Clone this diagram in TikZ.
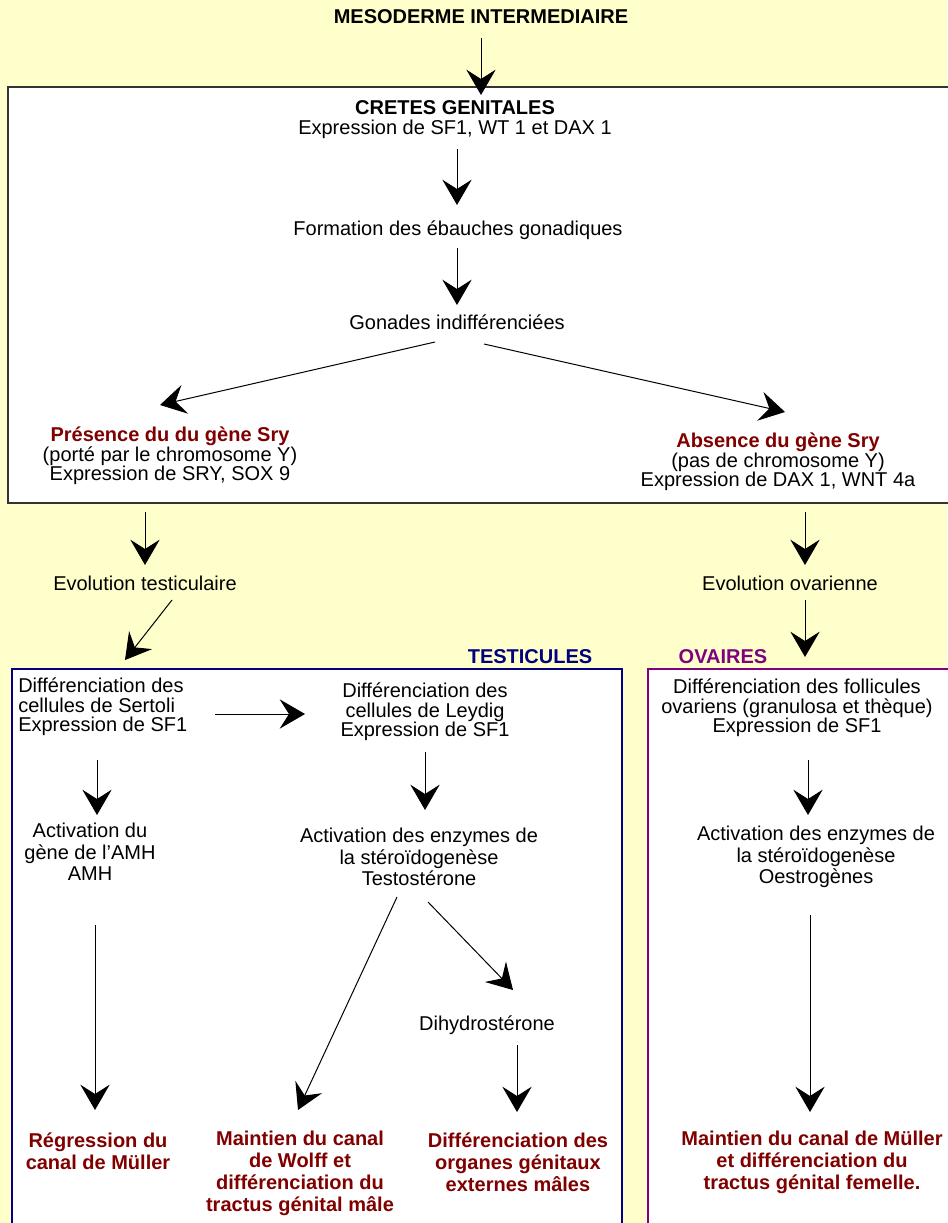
\documentclass[tikz,border=0pt]{standalone}
\usepackage{fontspec}
\setmainfont{Liberation Sans}
\usepackage{xcolor}
\usepackage{tikz}
\usetikzlibrary{arrows.meta, calc, positioning}

\definecolor{fond}{HTML}{FFFFCC}
\definecolor{brique}{HTML}{800000}
\definecolor{marine}{HTML}{000080}
\definecolor{pourpre}{HTML}{800080}

\begin{document}
\begin{tikzpicture}[x=0.75pt,y=-0.75pt,
    >={Stealth[length=19pt,width=22pt,inset=7pt]},
    every node/.style={inner sep=0pt,align=center,font=\fontsize{15}{14.5}\selectfont},
    fleche/.style={->,line width=0.75pt},
    titre/.style={font=\fontsize{15}{16.5}\selectfont\bfseries,text=brique},
    etape/.style={font=\fontsize{15}{16}\selectfont}]
    \useasboundingbox (0,0) rectangle (947,1223);
    \fill[fond] (0,0) rectangle (947,1223);
    \draw[line width=1.5pt,draw=black!80,fill=white] (8,87) rectangle (960,503);
    \draw[line width=1.1pt,draw=marine,fill=white] (12,669) rectangle (622,1240);
    \draw[line width=1.1pt,draw=pourpre,fill=white] (648,669) rectangle (960,1240);

    \node[font=\fontsize{15}{15}\selectfont\bfseries] (meso) at (481,17) {MESODERME INTERMEDIAIRE};
    \node (cretes) at (455,119.5) {\textbf{CRETES GENITALES}\\Expression de SF1, WT 1 et DAX 1};
    \node (formation) at (458,230) {Formation des ébauches gonadiques};
    \node (gonades) at (457,322) {Gonades indifférenciées};
    \node (presence) at (170,456) {\textcolor{brique}{\textbf{Présence du du gène Sry}}\\(porté par le chromosome Y)\\Expression de SRY, SOX 9};
    \node (absence) at (778,462) {\textcolor{brique}{\textbf{Absence du gène Sry}}\\(pas de chromosome Y)\\Expression de DAX 1, WNT 4a};
    \node (evoT) at (145,583) {Evolution testiculaire};
    \node (evoO) at (790,583) {Evolution ovarienne};
    \node[font=\fontsize{15}{15}\selectfont\bfseries,text=marine] (testicules) at (530,657) {TESTICULES};
    \node[font=\fontsize{15}{15}\selectfont\bfseries,text=pourpre] (ovaires) at (723,657) {OVAIRES};

    \node[align=left,anchor=west] (sertoli) at (18,707) {Différenciation des\\cellules de Sertoli\\Expression de SF1};
    \node (leydig) at (425,712) {Différenciation des\\cellules de Leydig\\Expression de SF1};
    \node[etape] (amh) at (90,852) {Activation du\\gène de l'AMH\\AMH};
    \node[etape] (enzT) at (419,857) {Activation des enzymes de\\la stéroïdogenèse\\Testostérone};
    \node (dihydro) at (487,1025) {Dihydrostérone};
    \node[titre] (regression) at (98,1151) {Régression du\\canal de Müller};
    \node[titre] (wolff) at (300,1173) {Maintien du canal\\de Wolff et\\différenciation du\\tractus génital mâle};
    \node[titre] (organes) at (518,1162) {Différenciation des\\organes génitaux\\externes mâles};

    \node (follicules) at (797,708) {Différenciation des follicules\\ovariens (granulosa et thèque)\\Expression de SF1};
    \node[etape] (enzO) at (816,857) {Activation des enzymes de\\la stéroïdogenèse\\Oestrogènes};
    \node[titre] (mullerF) at (812,1162) {Maintien du canal de Müller\\et différenciation du\\tractus génital femelle.};

    \draw[fleche] ($(meso)+(0,21)$) -- ($(meso)+(0,78)$);
    \draw[fleche] ($(cretes)+(2,30)$) -- ($(formation)+(-1,-25)$);
    \draw[fleche] ($(formation)+(-1,18)$) -- ($(gonades)+(0,-17)$);
    \draw[fleche] ($(gonades)+(-22,20)$) -- ($(presence)+(-10,-51)$);
    \draw[fleche] ($(gonades)+(27,22)$) -- ($(absence)+(7,-50)$);
    \draw[fleche] ($(presence)+(-25,56)$) -- ($(evoT)+(0,-18)$);
    \draw[fleche] ($(absence)+(27,50)$) -- ($(evoO)+(15,-18)$);
    \draw[fleche] ($(evoT)+(27,17)$) -- ($(sertoli.west)+(107,-47)$);
    \draw[fleche] ($(evoO)+(15,17)$) -- ($(evoO)+(15,74)$);
    \draw[fleche] ($(sertoli.west)+(197,7)$) -- ($(leydig)+(-120,2)$);
    \draw[fleche] ($(sertoli.west)+(79,53)$) -- ($(amh)+(7,-37)$);
    \draw[fleche] ($(leydig)+(0,40)$) -- ($(enzT)+(6,-47)$);
    \draw[fleche] ($(amh)+(5,73)$) -- ($(regression)+(-3,-41)$);
    \draw[fleche] ($(enzT)+(-22,40)$) -- ($(wolff)+(-2,-63)$);
    \draw[fleche] ($(enzT)+(9,45)$) -- ($(dihydro)+(26,-35)$);
    \draw[fleche] ($(dihydro)+(30,20)$) -- ($(organes)+(-1,-50)$);
    \draw[fleche] ($(follicules)+(11,52)$) -- ($(enzO)+(-8,-42)$);
    \draw[fleche] ($(enzO)+(-6,58)$) -- ($(mullerF)+(-2,-50)$);
\end{tikzpicture}
\end{document}
